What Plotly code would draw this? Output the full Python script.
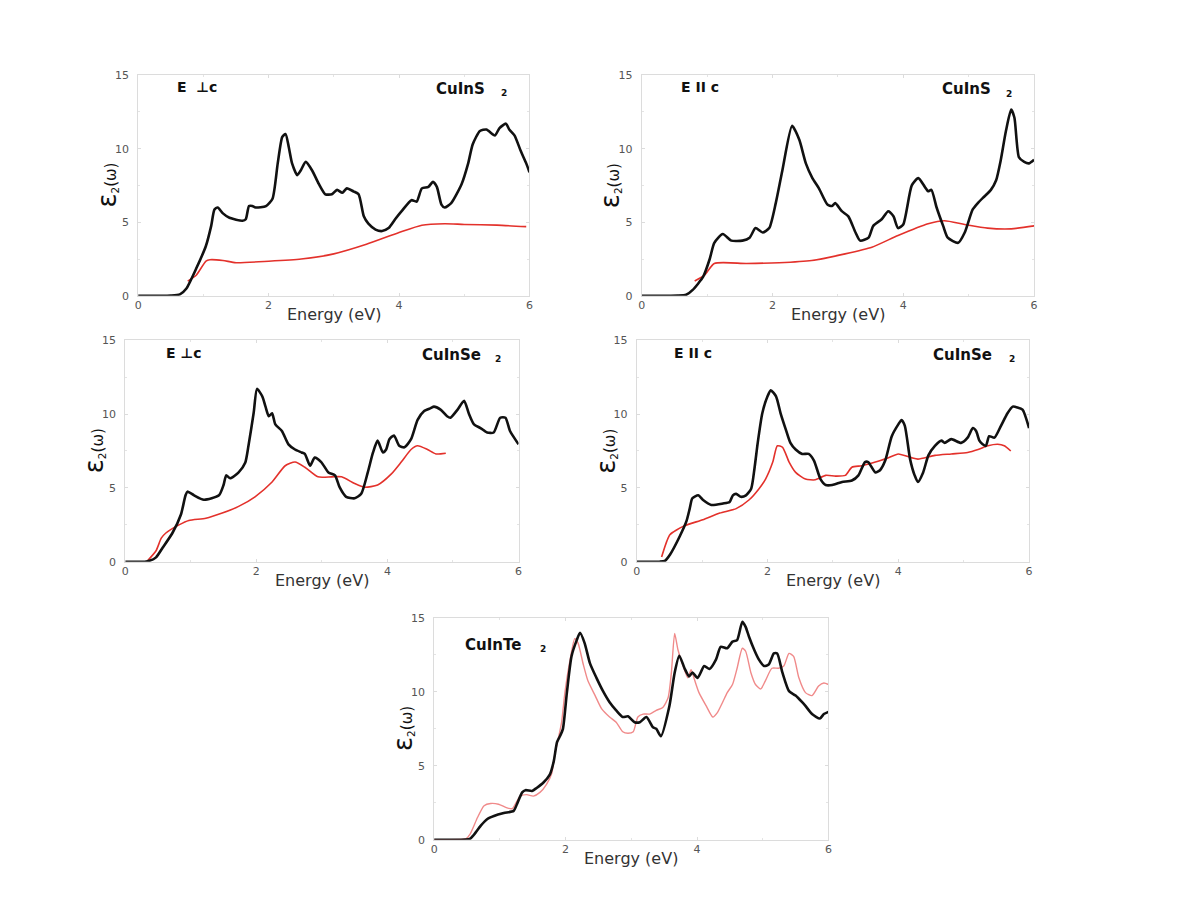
import plotly.graph_objects as go

# ---------------- data ----------------
# Panel 1: CuInS2, E perp c
p1_black_x = [0, 0.5, 0.64, 0.74, 0.89, 1.04, 1.12, 1.17, 1.22, 1.30, 1.40, 1.60, 1.65, 1.70, 1.75, 1.80, 1.96, 2.06, 2.14, 2.21, 2.26, 2.31, 2.36, 2.44, 2.49, 2.57, 2.67, 2.77, 2.87, 2.97, 3.05, 3.13, 3.20, 3.30, 3.38, 3.46, 3.53, 3.64, 3.74, 3.84, 3.94, 4.04, 4.19, 4.27, 4.35, 4.45, 4.52, 4.58, 4.65, 4.70, 4.80, 4.96, 5.06, 5.13, 5.24, 5.34, 5.47, 5.54, 5.64, 5.69, 5.77, 5.87, 5.95, 6.0]
p1_black_y = [0, 0.02, 0.1, 0.5, 1.85, 3.4, 4.75, 5.86, 6.0, 5.6, 5.3, 5.1, 5.2, 6.1, 6.1, 6.0, 6.1, 6.6, 9.0, 10.8, 11.0, 10.1, 9.0, 8.2, 8.5, 9.1, 8.5, 7.6, 6.9, 6.9, 7.2, 7.0, 7.3, 7.1, 6.9, 5.4, 4.9, 4.5, 4.4, 4.6, 5.2, 5.75, 6.5, 6.4, 7.3, 7.4, 7.75, 7.4, 6.2, 6.0, 6.3, 7.6, 9.0, 10.3, 11.2, 11.3, 10.9, 11.4, 11.7, 11.3, 10.9, 9.8, 9.0, 8.4]
p1_red_x = [0.76, 0.89, 1.04, 1.1, 1.3, 1.5, 2.0, 2.5, 3.0, 3.5, 4.0, 4.35, 4.7, 5.0, 5.5, 5.95]
p1_red_y = [1.0, 1.4, 2.36, 2.45, 2.4, 2.25, 2.35, 2.5, 2.85, 3.5, 4.3, 4.8, 4.9, 4.85, 4.8, 4.7]

# Panel 2: CuInS2, E || c
p2_black_x = [0, 0.55, 0.68, 0.78, 0.94, 1.04, 1.11, 1.24, 1.37, 1.54, 1.65, 1.74, 1.85, 1.95, 2.05, 2.15, 2.30, 2.41, 2.51, 2.61, 2.71, 2.84, 2.91, 2.96, 3.06, 3.16, 3.27, 3.34, 3.47, 3.54, 3.67, 3.77, 3.85, 3.92, 4.0, 4.13, 4.23, 4.33, 4.38, 4.43, 4.51, 4.61, 4.68, 4.84, 4.94, 5.06, 5.14, 5.24, 5.34, 5.42, 5.49, 5.57, 5.65, 5.70, 5.77, 5.85, 5.92, 6.0]
p2_black_y = [0, 0.01, 0.07, 0.4, 1.3, 2.5, 3.6, 4.2, 3.75, 3.75, 3.95, 4.6, 4.3, 4.6, 6.3, 8.5, 11.55, 10.6, 9.0, 8.0, 7.3, 6.2, 6.1, 6.3, 5.75, 5.4, 4.3, 3.75, 3.95, 4.75, 5.2, 5.75, 5.4, 4.6, 4.85, 7.5, 8.0, 7.4, 7.1, 7.2, 6.0, 4.75, 3.95, 3.6, 4.3, 5.85, 6.3, 6.75, 7.2, 7.85, 9.2, 11.2, 12.65, 12.1, 9.4, 9.1, 9.0, 9.25]
p2_red_x = [0.81, 0.96, 1.11, 1.6, 2.1, 2.6, 3.11, 3.52, 3.92, 4.38, 4.63, 4.94, 5.29, 5.65, 6.0]
p2_red_y = [1.0, 1.4, 2.2, 2.2, 2.25, 2.4, 2.85, 3.3, 4.1, 4.9, 5.1, 4.85, 4.6, 4.55, 4.75]

# Panel 3: CuInSe2, E perp c
p3_black_x = [0, 0.3, 0.37, 0.47, 0.57, 0.72, 0.85, 0.92, 0.95, 1.05, 1.2, 1.43, 1.5, 1.54, 1.6, 1.73, 1.83, 1.88, 1.96, 2.01, 2.09, 2.14, 2.19, 2.24, 2.29, 2.39, 2.49, 2.59, 2.69, 2.74, 2.82, 2.89, 2.99, 3.1, 3.2, 3.27, 3.37, 3.5, 3.6, 3.7, 3.78, 3.85, 3.93, 3.98, 4.03, 4.1, 4.18, 4.26, 4.36, 4.46, 4.56, 4.66, 4.71, 4.81, 4.91, 4.96, 5.07, 5.17, 5.24, 5.32, 5.42, 5.52, 5.62, 5.72, 5.8, 5.87, 6.0]
p3_black_y = [0, 0.01, 0.07, 0.3, 0.95, 1.95, 3.2, 4.5, 4.75, 4.5, 4.2, 4.5, 5.2, 5.85, 5.65, 6.05, 6.7, 7.85, 10.1, 11.7, 11.2, 10.5, 9.85, 10.05, 9.3, 8.85, 7.95, 7.6, 7.4, 7.3, 6.5, 7.05, 6.75, 6.05, 5.85, 5.05, 4.4, 4.3, 4.6, 6.05, 7.4, 8.2, 7.4, 7.6, 8.3, 8.55, 7.85, 7.75, 8.3, 9.6, 10.2, 10.4, 10.5, 10.3, 9.85, 9.75, 10.3, 10.9, 10.05, 9.3, 9.05, 8.75, 8.75, 9.75, 9.75, 8.85, 7.95]
p3_red_x = [0.34, 0.47, 0.55, 0.62, 0.82, 0.97, 1.23, 1.48, 1.73, 1.98, 2.24, 2.44, 2.59, 2.74, 2.94, 3.15, 3.3, 3.5, 3.65, 3.85, 4.06, 4.21, 4.36, 4.46, 4.61, 4.74, 4.89]
p3_red_y = [0.07, 0.75, 1.6, 1.95, 2.5, 2.8, 2.95, 3.3, 3.75, 4.4, 5.4, 6.5, 6.75, 6.4, 5.75, 5.75, 5.75, 5.3, 5.05, 5.2, 5.95, 6.75, 7.6, 7.85, 7.6, 7.3, 7.35]

# Panel 4: CuInSe2, E || c
p4_black_x = [0, 0.35, 0.43, 0.51, 0.66, 0.76, 0.81, 0.85, 0.94, 1.01, 1.14, 1.32, 1.42, 1.47, 1.52, 1.59, 1.67, 1.75, 1.8, 1.85, 1.92, 2.0, 2.05, 2.13, 2.2, 2.28, 2.35, 2.43, 2.53, 2.63, 2.71, 2.81, 2.89, 2.99, 3.14, 3.29, 3.39, 3.49, 3.54, 3.65, 3.72, 3.8, 3.9, 4.0, 4.05, 4.1, 4.18, 4.25, 4.3, 4.38, 4.46, 4.56, 4.66, 4.71, 4.81, 4.96, 5.06, 5.14, 5.19, 5.24, 5.29, 5.34, 5.39, 5.47, 5.57, 5.67, 5.75, 5.82, 5.9, 6.0]
p4_black_y = [0, 0.01, 0.07, 0.5, 1.75, 2.75, 3.6, 4.3, 4.5, 4.2, 3.85, 3.95, 4.05, 4.5, 4.6, 4.4, 4.5, 4.95, 6.3, 8.05, 10.05, 11.2, 11.6, 11.2, 10.05, 8.95, 8.05, 7.6, 7.3, 7.3, 6.85, 5.6, 5.2, 5.2, 5.4, 5.5, 5.85, 6.75, 6.75, 6.05, 6.2, 6.85, 8.5, 9.3, 9.6, 9.2, 6.95, 5.85, 5.4, 6.05, 7.2, 7.85, 8.2, 8.05, 8.3, 8.05, 8.4, 9.05, 8.85, 8.2, 7.95, 7.85, 8.5, 8.4, 9.2, 10.05, 10.5, 10.45, 10.3, 9.05]
p4_red_x = [0.38, 0.46, 0.51, 0.71, 1.01, 1.27, 1.52, 1.72, 1.87, 1.97, 2.08, 2.15, 2.23, 2.33, 2.43, 2.58, 2.73, 2.89, 3.04, 3.19, 3.29, 3.44, 3.65, 3.85, 4.0, 4.2, 4.3, 4.56, 4.81, 5.06, 5.22, 5.37, 5.52, 5.62, 5.72]
p4_red_y = [0.33, 1.4, 1.85, 2.4, 2.85, 3.3, 3.6, 4.2, 4.95, 5.6, 6.75, 7.85, 7.75, 6.75, 6.05, 5.6, 5.55, 5.85, 5.8, 5.85, 6.4, 6.5, 6.75, 7.05, 7.3, 7.05, 6.95, 7.2, 7.3, 7.4, 7.6, 7.85, 7.95, 7.85, 7.5]

# Panel 5: CuInTe2
p5_black_x = [0, 0.48, 0.55, 0.6, 0.71, 0.81, 0.91, 1.06, 1.21, 1.26, 1.34, 1.39, 1.49, 1.56, 1.66, 1.76, 1.82, 1.87, 1.92, 1.96, 2.02, 2.09, 2.17, 2.22, 2.29, 2.37, 2.47, 2.57, 2.67, 2.77, 2.87, 2.95, 3.05, 3.13, 3.23, 3.33, 3.38, 3.45, 3.58, 3.66, 3.73, 3.81, 3.88, 3.93, 4.01, 4.11, 4.19, 4.29, 4.36, 4.46, 4.54, 4.61, 4.69, 4.74, 4.79, 4.87, 4.94, 5.02, 5.09, 5.17, 5.22, 5.3, 5.4, 5.5, 5.6, 5.65, 5.75, 5.87, 5.93, 6.0]
p5_black_y = [0, 0.01, 0.07, 0.3, 0.95, 1.4, 1.6, 1.8, 1.95, 2.4, 3.2, 3.35, 3.3, 3.5, 3.85, 4.4, 5.3, 6.6, 7.05, 7.5, 9.95, 12.4, 13.5, 14.0, 13.3, 11.95, 10.95, 10.05, 9.3, 8.75, 8.3, 8.35, 7.95, 7.95, 8.3, 7.6, 7.5, 7.0, 9.05, 11.3, 12.45, 11.6, 11.05, 11.3, 10.95, 11.75, 11.55, 12.2, 13.05, 12.95, 13.4, 13.5, 14.75, 14.4, 13.75, 12.85, 12.2, 11.75, 11.85, 12.6, 12.6, 11.3, 10.05, 9.75, 9.3, 9.05, 8.5, 8.2, 8.5, 8.65]
p5_red_x = [0, 0.4, 0.48, 0.55, 0.66, 0.76, 0.86, 0.98, 1.11, 1.19, 1.26, 1.31, 1.41, 1.51, 1.61, 1.71, 1.79, 1.84, 1.89, 1.94, 1.99, 2.07, 2.14, 2.19, 2.27, 2.34, 2.45, 2.55, 2.67, 2.77, 2.87, 2.95, 3.03, 3.1, 3.18, 3.28, 3.38, 3.48, 3.56, 3.61, 3.66, 3.71, 3.78, 3.86, 3.91, 3.96, 4.03, 4.14, 4.24, 4.31, 4.39, 4.46, 4.54, 4.61, 4.69, 4.74, 4.82, 4.89, 4.97, 5.04, 5.14, 5.24, 5.32, 5.4, 5.47, 5.55, 5.65, 5.75, 5.85, 5.93, 6.0]
p5_red_y = [0, 0.01, 0.05, 0.4, 1.5, 2.3, 2.45, 2.4, 2.15, 2.1, 2.6, 2.95, 3.05, 2.95, 3.2, 3.75, 4.5, 5.85, 6.85, 7.95, 9.95, 12.2, 13.6, 13.3, 11.85, 10.75, 9.75, 8.85, 8.3, 7.95, 7.3, 7.2, 7.3, 8.3, 8.5, 8.5, 8.75, 8.95, 9.6, 11.3, 13.95, 12.85, 11.85, 10.95, 11.5, 10.85, 9.95, 9.05, 8.3, 8.6, 9.3, 9.95, 10.5, 11.6, 12.95, 12.75, 11.3, 10.5, 10.2, 10.75, 11.6, 11.6, 11.75, 12.6, 12.4, 10.95, 9.95, 9.75, 10.4, 10.6, 10.5]

x_ticks = [0, 2, 4, 6]
y_ticks = [0, 5, 10, 15]
x_title = "Energy (eV)"
y_title = "<span style='font-size:26px'>ε</span><sub>2</sub>(ω)"
pol_labels = ["E  ⊥c", "E II c", "E ⊥c", "E II c", None]
compound_labels = ["CuInS", "CuInS", "CuInSe", "CuInSe", "CuInTe"]
subscript_label = "2"

# The plotly div sits inside the page body's default 8px margin; size the
# figure so that the whole page is exactly 1200x900 (no scrollbars).
OFF = 8
W, H = 1200 - 2 * OFF, 900 - 2 * OFF


def dx(a, b):
    return [(a - OFF) / W, (b - OFF) / W]


def dy(top, bottom):
    return [1 - (bottom - OFF) / H, 1 - (top - OFF) / H]


styles = [
    dict(red="#e3312b", rw=1.6, dom_x=dx(135, 529), dom_y=dy(70, 294),
         pol=(0.094, 0.946), comp=(0.756, 0.938), sub=(0.934, 0.918)),
    dict(red="#e3312b", rw=1.6, dom_x=dx(642, 1037), dom_y=dy(70, 294),
         pol=(0.096, 0.946), comp=(0.76, 0.938), sub=(0.937, 0.915)),
    dict(red="#e3312b", rw=1.6, dom_x=dx(122, 518), dom_y=dy(339, 564),
         pol=(0.098, 0.942), comp=(0.75, 0.935), sub=(0.947, 0.915)),
    dict(red="#e3312b", rw=1.6, dom_x=dx(637, 1032), dom_y=dy(339, 564),
         pol=(0.089, 0.942), comp=(0.75, 0.935), sub=(0.957, 0.915)),
    dict(red="#f08a8a", rw=1.4, dom_x=dx(433, 830), dom_y=dy(621, 846),
         pol=None, comp=(0.073, 0.88), sub=(0.277, 0.862)),
]
series = [
    (p1_black_x, p1_black_y, p1_red_x, p1_red_y),
    (p2_black_x, p2_black_y, p2_red_x, p2_red_y),
    (p3_black_x, p3_black_y, p3_red_x, p3_red_y),
    (p4_black_x, p4_black_y, p4_red_x, p4_red_y),
    (p5_black_x, p5_black_y, p5_red_x, p5_red_y),
]

FONT = "DejaVu Sans, Liberation Sans, sans-serif"
fig = go.Figure()
layout = dict(
    width=W, height=H,
    margin=dict(l=0, r=0, t=0, b=0),
    paper_bgcolor="white", plot_bgcolor="white",
    showlegend=False,
    font=dict(family=FONT, color="#333"),
)
annotations = []

for i, (st, (bx, by, rx, ry)) in enumerate(zip(styles, series)):
    n = i + 1
    xa = "x" if n == 1 else f"x{n}"
    ya = "y" if n == 1 else f"y{n}"
    fig.add_trace(go.Scatter(x=rx, y=ry, mode="lines",
                             line=dict(color=st["red"], width=st["rw"], shape="spline", smoothing=0.6),
                             xaxis=xa, yaxis=ya, hoverinfo="skip"))
    fig.add_trace(go.Scatter(x=bx, y=by, mode="lines",
                             line=dict(color="#111", width=2.6, shape="spline", smoothing=0.6),
                             xaxis=xa, yaxis=ya, hoverinfo="skip"))
    axis_common = dict(showgrid=False, zeroline=False, showline=True, linecolor="#dcdcdc",
                       linewidth=1, mirror="ticks", ticks="inside", ticklen=3, tickcolor="#dcdcdc",
                       tickfont=dict(size=11, color="#555", family=FONT))
    suffix = "" if n == 1 else str(n)
    layout[f"xaxis{suffix}"] = dict(
        axis_common, domain=st["dom_x"], range=[0, 6], tickvals=x_ticks, anchor=ya,
        minor=dict(dtick=1, ticks="inside", ticklen=2, tickcolor="#e4e4e4"),
        ticklabelstandoff=-1,
    )
    layout[f"yaxis{suffix}"] = dict(
        axis_common, domain=st["dom_y"], range=[0, 15], tickvals=y_ticks, anchor=xa,
        minor=dict(dtick=2.5, ticks="inside", ticklen=2, tickcolor="#e4e4e4"),
        ticklabelstandoff=6,
    )
    xr = f"{xa} domain"
    yr = f"{ya} domain"
    # axis titles as positioned text
    annotations.append(dict(xref=xr, yref=yr, x=0.5, y=0, xanchor="center", yanchor="middle",
                            yshift=-19, text=x_title, showarrow=False,
                            font=dict(size=16, color="#333", family=FONT)))
    annotations.append(dict(xref=xr, yref=yr, x=0, y=0.5, xanchor="center", yanchor="middle",
                            xshift=-31, textangle=-90, text=y_title, showarrow=False,
                            font=dict(size=15, color="#111", family=FONT)))
    if pol_labels[i]:
        annotations.append(dict(xref=xr, yref=yr, x=st["pol"][0], y=st["pol"][1],
                                xanchor="left", yanchor="middle",
                                text=f"<b>{pol_labels[i]}</b>", showarrow=False,
                                font=dict(size=14, color="#111", family=FONT)))
    annotations.append(dict(xref=xr, yref=yr, x=st["comp"][0], y=st["comp"][1],
                            xanchor="left", yanchor="middle",
                            text=f"<b>{compound_labels[i]}</b>", showarrow=False,
                            font=dict(size=15, color="#111", family=FONT)))
    annotations.append(dict(xref=xr, yref=yr, x=st["sub"][0], y=st["sub"][1],
                            xanchor="center", yanchor="middle",
                            text=f"<b>{subscript_label}</b>", showarrow=False,
                            font=dict(size=9, color="#111", family=FONT)))

layout["annotations"] = annotations
fig.update_layout(**layout)
fig.write_html("out.html")
